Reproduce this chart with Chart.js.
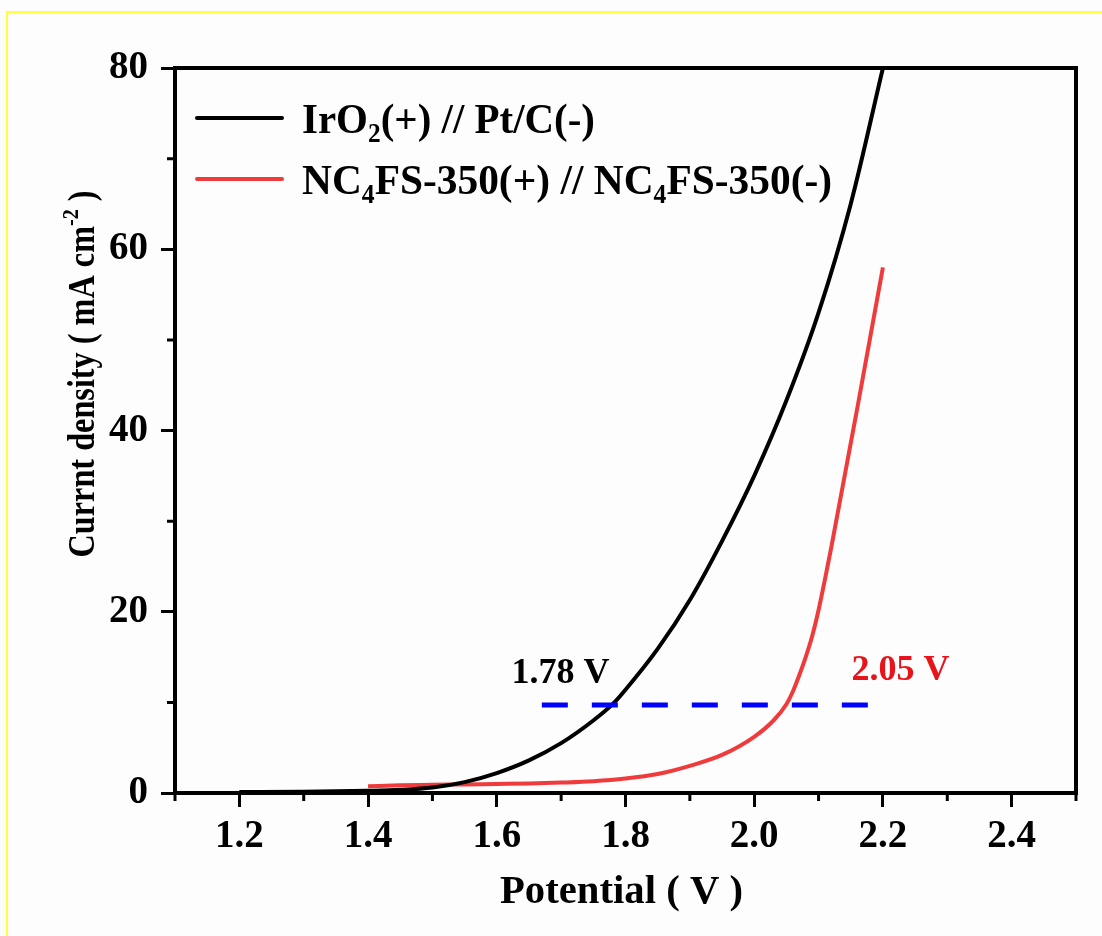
<!DOCTYPE html>
<html>
<head>
<meta charset="utf-8">
<title>Current density vs potential</title>
<script src="https://cdn.jsdelivr.net/npm/chart.js@4.4.0/dist/chart.umd.min.js"></script>
<style>
  html, body { margin: 0; padding: 0; background: #fdfdfd; }
  canvas { display: block; }
</style>
</head>
<body>
<canvas id="myChart" width="1102" height="936"></canvas>
<script>
'use strict';

// IrO2(+) // Pt/C(-)
let irPotential = [1.20, 1.30, 1.40, 1.45, 1.50, 1.55, 1.60, 1.65, 1.70, 1.75, 1.78, 1.80, 1.85, 1.90, 1.95, 2.00, 2.05, 2.10, 2.15, 2.20];
let irCurrent = [0.1, 0.15, 0.25, 0.35, 0.6, 1.2, 2.2, 3.6, 5.5, 8.0, 9.8, 11.4, 15.9, 21.3, 27.8, 35.0, 43.3, 53.0, 65.0, 80.0];

// NC4FS-350(+) // NC4FS-350(-)
let ncPotential = [1.40, 1.45, 1.50, 1.55, 1.60, 1.65, 1.70, 1.75, 1.80, 1.85, 1.90, 1.95, 2.00, 2.03, 2.05, 2.06, 2.07, 2.08, 2.09, 2.10, 2.11, 2.12, 2.14, 2.16, 2.18, 2.20];
let ncCurrent = [0.75, 0.85, 0.9, 0.95, 1.0, 1.05, 1.15, 1.3, 1.6, 2.1, 3.0, 4.2, 6.2, 8.0, 9.8, 11.2, 13.0, 15.0, 17.3, 20.2, 23.6, 27.2, 34.8, 42.4, 50.2, 58.0];

// 10 mA cm-2 reference line
let refPotential = [1.67, 2.18];
let refCurrent = [9.7, 9.7];

let xTicks = [1.2, 1.4, 1.6, 1.8, 2.0, 2.2, 2.4];
let xMinorTicks = [1.1, 1.3, 1.5, 1.7, 1.9, 2.1, 2.3, 2.5];
let yTicks = [0, 20, 40, 60, 80];
let yMinorTicks = [10, 30, 50, 70];

let fontFamily = '"Liberation Serif", "Times New Roman", serif';
let redLine = '#ef3b3b';
let redText = '#e8141c';

let legendItems = [
  { color: '#000000', parts: [{ t: 'IrO' }, { t: '2', sub: true }, { t: '(+) // Pt/C(-)' }] },
  { color: redLine, parts: [{ t: 'NC' }, { t: '4', sub: true }, { t: 'FS-350(+) // NC' }, { t: '4', sub: true }, { t: 'FS-350(-)' }] }
];

let notes = [
  { text: '1.78 V', x: 1.623, y: 12.1, color: '#000000' },
  { text: '2.05 V', x: 2.151, y: 12.5, color: redText }
];

function toPoints(xs, ys) {
  return xs.map((x, i) => ({ x: x, y: ys[i] }));
}

function partWidth(ctx, part, size) {
  let s = part.sub || part.sup ? size * 0.62 : size;
  ctx.font = `bold ${s}px ${fontFamily}`;
  return ctx.measureText(part.t).width;
}

function richWidth(ctx, parts, size) {
  let w = 0;
  parts.forEach(part => { w += partWidth(ctx, part, size); });
  return w;
}

// text with sub/superscripts; x is the left edge, y the baseline, sx squeezes it sideways
function drawRichText(ctx, parts, x, y, size, color, sx) {
  sx = sx || 1;
  ctx.save();
  ctx.translate(x, y);
  ctx.scale(sx, 1);
  ctx.fillStyle = color;
  ctx.textBaseline = 'alphabetic';
  ctx.textAlign = 'left';
  let cx = 0;
  parts.forEach(part => {
    let w = partWidth(ctx, part, size);
    let dy = 0;
    if (part.sub) dy = size * 0.22;
    if (part.sup) dy = -size * 0.42;
    ctx.fillText(part.t, cx, dy);
    cx += w;
  });
  ctx.restore();
}

let framePlugin = {
  id: 'frame',
  beforeDraw(chart) {
    let c = chart.ctx;
    c.save();
    c.fillStyle = '#fdfdfd';
    c.fillRect(0, 0, chart.width, chart.height);
    c.strokeStyle = '#ffff3c';
    c.lineWidth = 2;
    c.beginPath();
    c.moveTo(7, chart.height);
    c.lineTo(7, 12);
    c.lineTo(chart.width, 12);
    c.stroke();
    c.restore();
  },
  afterDraw(chart) {
    let c = chart.ctx;
    let area = chart.chartArea;
    let xs = chart.scales.x;
    let ys = chart.scales.y;

    c.save();
    // box
    c.strokeStyle = '#000';
    c.lineWidth = 4;
    c.strokeRect(area.left, area.top, area.right - area.left, area.bottom - area.top);

    // minor ticks
    c.lineWidth = 3;
    c.beginPath();
    xMinorTicks.forEach(v => {
      let px = xs.getPixelForValue(v);
      c.moveTo(px, area.bottom);
      c.lineTo(px, area.bottom + 8);
    });
    yMinorTicks.forEach(v => {
      let py = ys.getPixelForValue(v);
      c.moveTo(area.left, py);
      c.lineTo(area.left - 8, py);
    });
    c.stroke();
    c.restore();

    // legend
    let legendWidths = [293, 530];
    legendItems.forEach((item, i) => {
      let ly = area.top + 50 + i * 61;
      c.save();
      c.strokeStyle = item.color;
      c.lineWidth = 4;
      c.lineCap = 'round';
      c.beginPath();
      c.moveTo(area.left + 22, ly);
      c.lineTo(area.left + 107, ly);
      c.stroke();
      c.restore();
      let w = richWidth(c, item.parts, 43);
      drawRichText(c, item.parts, area.left + 127, ly + 15, 43, '#000', legendWidths[i] / w);
    });

    // value notes
    notes.forEach(n => {
      c.save();
      c.fillStyle = n.color;
      c.font = `bold 36px ${fontFamily}`;
      c.textBaseline = 'alphabetic';
      c.fillText(n.text, xs.getPixelForValue(n.x), ys.getPixelForValue(n.y));
      c.restore();
    });

    // x title
    let xTitle = [{ t: 'Potential ( V )' }];
    let xw = richWidth(c, xTitle, 41);
    drawRichText(c, xTitle, 500, 903, 41, '#000', 243 / xw);

    // y title, squeezed to the length it has in the figure
    let yTitle = [{ t: 'Currnt density ( mA cm' }, { t: '-2', sup: true }, { t: ' )' }];
    let yw = richWidth(c, yTitle, 38);
    c.save();
    c.translate(94, 374);
    c.rotate(-Math.PI / 2);
    drawRichText(c, yTitle, -367 / 2, 0, 38, '#000', 367 / yw);
    c.restore();
  }
};

let tickFont = { family: fontFamily, size: 39, weight: 'bold' };

new Chart(document.getElementById('myChart'), {
  type: 'line',
  data: {
    datasets: [
      {
        label: '10 mA cm-2',
        data: toPoints(refPotential, refCurrent),
        borderColor: '#0000ff',
        borderWidth: 5,
        borderDash: [26, 24],
        pointRadius: 0
      },
      {
        label: 'IrO2(+) // Pt/C(-)',
        data: toPoints(irPotential, irCurrent),
        borderColor: '#000000',
        borderWidth: 4,
        pointRadius: 0,
        cubicInterpolationMode: 'monotone'
      },
      {
        label: 'NC4FS-350(+) // NC4FS-350(-)',
        data: toPoints(ncPotential, ncCurrent),
        borderColor: redLine,
        borderWidth: 4,
        pointRadius: 0,
        cubicInterpolationMode: 'monotone'
      }
    ]
  },
  options: {
    responsive: false,
    animation: false,
    devicePixelRatio: 1,
    layout: { padding: { top: 68, right: 26, bottom: 0, left: 0 } },
    plugins: {
      legend: { display: false },
      tooltip: { enabled: false }
    },
    scales: {
      x: {
        type: 'linear',
        min: 1.1,
        max: 2.5,
        afterBuildTicks: scale => { scale.ticks = xTicks.map(v => ({ value: v })); },
        afterFit: scale => { scale.height = 143; },
        border: { display: false },
        grid: { drawOnChartArea: false, drawTicks: true, tickLength: 14, tickWidth: 3, tickColor: '#000' },
        ticks: {
          color: '#000',
          font: tickFont,
          padding: 7,
          maxRotation: 0,
          autoSkip: false,
          callback: v => v.toFixed(1)
        }
      },
      y: {
        type: 'linear',
        min: 0,
        max: 80,
        afterBuildTicks: scale => { scale.ticks = yTicks.map(v => ({ value: v })); },
        afterFit: scale => { scale.width = 175; },
        border: { display: false },
        grid: { drawOnChartArea: false, drawTicks: true, tickLength: 14, tickWidth: 3, tickColor: '#000' },
        ticks: {
          color: '#000',
          font: tickFont,
          padding: 13,
          autoSkip: false,
          callback: v => v.toFixed(0)
        }
      }
    }
  },
  plugins: [framePlugin]
});
</script>
</body>
</html>
